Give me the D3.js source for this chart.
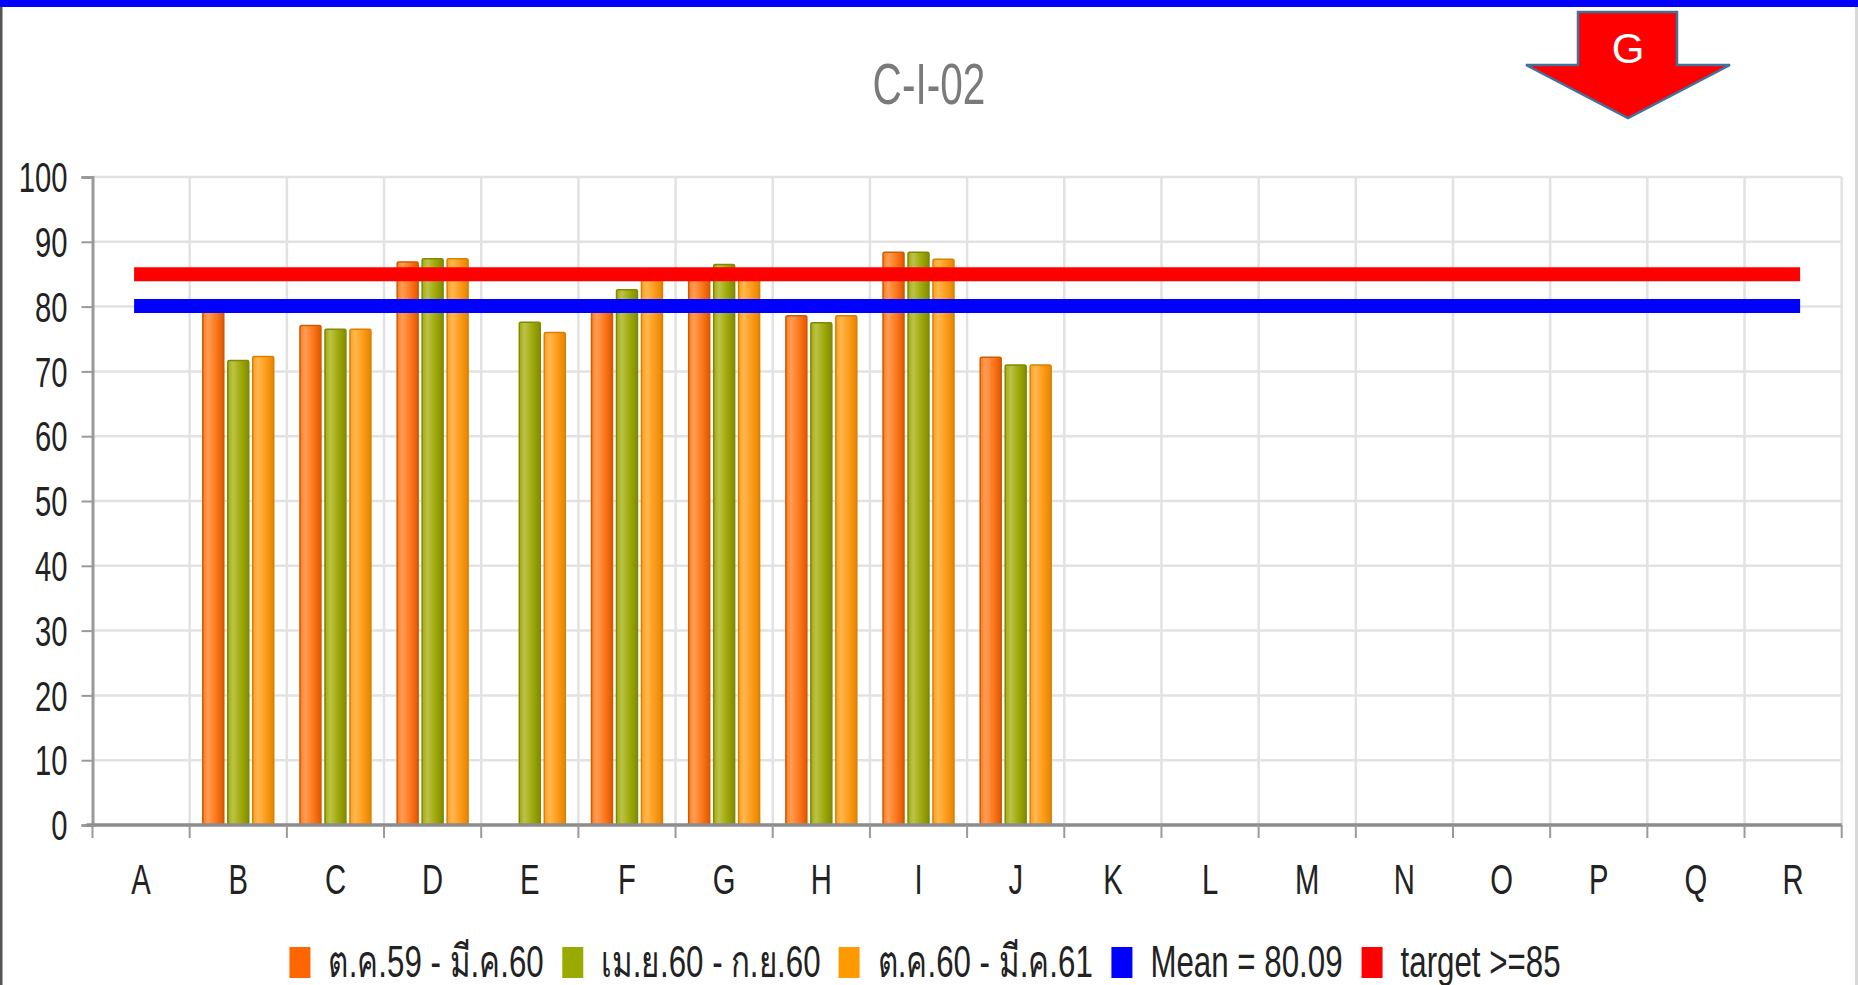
<!DOCTYPE html>
<html>
<head>
<meta charset="utf-8">
<script src="https://cdn.jsdelivr.net/npm/d3@7"></script>
<style>
  body { margin: 0; background: #fff; }
  text { font-family: "Liberation Sans", Arial, "DejaVu Sans", sans-serif; }
</style>
</head>
<body>
<svg id="chart" width="1858" height="985"></svg>
<script>
// ---------------- data ----------------
const chartTitle = "C-I-02";
const categories = ["A","B","C","D","E","F","G","H","I","J","K","L","M","N","O","P","Q","R"];
const seriesNames = ["ต.ค.59 - มี.ค.60", "เม.ย.60 - ก.ย.60", "ต.ค.60 - มี.ค.61"];
const series1 = [null, 79.3, 77.1, 86.9, null, 80.4, 85.6, 78.6, 88.4, 72.2, null, null, null, null, null, null, null, null];
const series2 = [null, 71.7, 76.5, 87.4, 77.6, 82.6, 86.5, 77.5, 88.4, 71.0, null, null, null, null, null, null, null, null];
const series3 = [null, 72.3, 76.5, 87.4, 76.0, 85.4, 85.6, 78.6, 87.3, 71.0, null, null, null, null, null, null, null, null];
const meanValue = 80.09;
const targetValue = 85;
const meanLabel = "Mean = 80.09";
const targetLabel = "target >=85";
const yTicks = [0, 10, 20, 30, 40, 50, 60, 70, 80, 90, 100];
const arrowLabel = "G";

// ---------------- styles ----------------
const W = 1858, H = 985;
const margin = { left: 92.5, right: 1858 - 1841.7, top: 177, bottom: 985 - 825 };
const textScale = 0.68;
const legendScale = 0.695;
const seriesColors = [
  { legend: "#ff6600", light: "#ff9d55", mid: "#ff7a1f", dark: "#e05800", stroke: "#cf5a00" },
  { legend: "#99aa00", light: "#bcc249", mid: "#a2ab0c", dark: "#818c00", stroke: "#7f8a00" },
  { legend: "#ff9900", light: "#ffb84f", mid: "#ff9d1c", dark: "#e58500", stroke: "#d98000" }
];

const svg = d3.select("#chart");
svg.append("rect").attr("width", W).attr("height", H).attr("fill", "#fff");

const defs = svg.append("defs");
seriesColors.forEach((c, i) => {
  const g = defs.append("linearGradient").attr("id", "grad" + i)
    .attr("x1", "0%").attr("x2", "100%").attr("y1", "0%").attr("y2", "0%");
  g.append("stop").attr("offset", "0%").attr("stop-color", c.mid);
  g.append("stop").attr("offset", "25%").attr("stop-color", c.light);
  g.append("stop").attr("offset", "60%").attr("stop-color", c.mid);
  g.append("stop").attr("offset", "100%").attr("stop-color", c.dark);
});

// borders
svg.append("rect").attr("x", 0).attr("y", 0).attr("width", W).attr("height", 7).attr("fill", "#0000ff");
svg.append("rect").attr("x", 0).attr("y", 7).attr("width", 2.5).attr("height", H - 7).attr("fill", "#555");
svg.append("rect").attr("x", W - 3).attr("y", 7).attr("width", 3).attr("height", H - 7).attr("fill", "#d8d8d8");

// scales
const x0 = margin.left, x1 = W - margin.right;
const y0 = H - margin.bottom, y1 = margin.top;
const xBand = d3.scaleBand().domain(categories).range([x0, x1]).padding(0);
const xGroup = d3.scaleBand().domain(categories).range([x0, x1]).paddingInner(0.27).paddingOuter(0.135);
const xSub = d3.scaleBand().domain([0, 1, 2]).range([0, xGroup.bandwidth()]).paddingInner(0.16);
const y = d3.scaleLinear().domain([0, 100]).range([y0, y1]);

// grid
const grid = svg.append("g");
grid.selectAll("line.h").data(yTicks).join("line")
  .attr("x1", x0).attr("x2", x1).attr("y1", d => y(d)).attr("y2", d => y(d))
  .attr("stroke", "#e2e2e2").attr("stroke-width", 2.5);
const bounds = categories.map(c => xBand(c)).concat([x1]);
grid.selectAll("line.v").data(bounds.slice(1)).join("line")
  .attr("x1", d => d).attr("x2", d => d).attr("y1", y1).attr("y2", y0)
  .attr("stroke", "#e2e2e2").attr("stroke-width", 2.5);

// bars
const allSeries = [series1, series2, series3];
allSeries.forEach((vals, si) => {
  const data = categories.map((c, i) => ({ c, v: vals[i] })).filter(d => d.v != null);
  svg.append("g").selectAll("rect").data(data).join("rect")
    .attr("x", d => xGroup(d.c) + xSub(si))
    .attr("width", xSub.bandwidth())
    .attr("y", d => y(d.v))
    .attr("height", d => y(0) - y(d.v))
    .attr("rx", 1.5)
    .attr("fill", "url(#grad" + si + ")")
    .attr("stroke", seriesColors[si].stroke)
    .attr("stroke-width", 1.5);
});

// axes
const yAxis = svg.append("g").attr("transform", `translate(${x0},0)`)
  .call(d3.axisLeft(y).tickValues(yTicks).tickSize(11).tickPadding(0).tickFormat(d3.format("d")));
yAxis.select(".domain").attr("stroke", "#9a9a9a").attr("stroke-width", 3);
yAxis.selectAll(".tick line").attr("stroke", "#9a9a9a").attr("stroke-width", 2);
yAxis.selectAll(".tick text")
  .attr("x", 0).attr("dy", null).attr("dominant-baseline", "central")
  .attr("transform", `translate(-25,0) scale(${textScale},1)`)
  .attr("font-size", 43).attr("fill", "#222").attr("text-anchor", "end")
  .attr("font-family", "Liberation Sans, Arial, sans-serif");

const xAxis = svg.append("g").attr("transform", `translate(0,${y0})`);
xAxis.append("line").attr("x1", x0 - 6).attr("x2", x1).attr("y1", 0).attr("y2", 0)
  .attr("stroke", "#8c8c8c").attr("stroke-width", 3.5);
xAxis.selectAll("line.t").data(bounds).join("line")
  .attr("x1", d => d).attr("x2", d => d).attr("y1", 0).attr("y2", 13)
  .attr("stroke", "#9a9a9a").attr("stroke-width", 2);
xAxis.selectAll("text").data(categories).join("text")
  .attr("transform", d => `translate(${xBand(d) + xBand.bandwidth() / 2},69) scale(${textScale},1)`)
  .attr("text-anchor", "middle").attr("font-size", 43).attr("fill", "#222")
  .text(d => d);

// reference lines
const refLines = [
  { v: meanValue, color: "#0000ff" },
  { v: targetValue, color: "#ff0000" }
];
const cA = xBand(categories[0]) + xBand.bandwidth() / 2;
const cR = xBand(categories[categories.length - 1]) + xBand.bandwidth() / 2;
svg.append("g").selectAll("line").data(refLines).join("line")
  .attr("x1", cA).attr("x2", cR).attr("y1", d => y(d.v)).attr("y2", d => y(d.v))
  .attr("stroke", d => d.color).attr("stroke-width", 14).attr("stroke-linecap", "square");

// title
svg.append("text")
  .attr("transform", `translate(929,104) scale(0.7,1)`)
  .attr("text-anchor", "middle").attr("font-size", 58).attr("fill", "#7a7a7a")
  .text(chartTitle);

// legend
const legendItems = seriesNames.map((n, i) => ({ label: n, color: seriesColors[i].legend }))
  .concat([{ label: meanLabel, color: "#0000ff" }, { label: targetLabel, color: "#ff0000" }]);
const lg = svg.append("g");
const sqW = 21, sqH = 31, gapSqText = 18, gapItem = 19, legendFont = 45;
const items = lg.selectAll("g").data(legendItems).join("g");
items.append("rect").attr("width", sqW).attr("height", sqH).attr("y", 947).attr("fill", d => d.color);
items.append("text").attr("font-size", legendFont).attr("fill", "#222").text(d => d.label);
let widths = [];
items.select("text").each(function () { widths.push(this.getComputedTextLength() * legendScale); });
const total = d3.sum(widths) + legendItems.length * (sqW + gapSqText) + (legendItems.length - 1) * gapItem;
let cx = 925 - total / 2;
items.each(function (d, i) {
  const g = d3.select(this);
  g.select("rect").attr("x", cx);
  g.select("text").attr("transform", `translate(${cx + sqW + gapSqText},977) scale(${legendScale},1)`);
  cx += sqW + gapSqText + widths[i] + gapItem;
});

// arrow annotation
const arrowPts = [[1578, 12], [1677, 12], [1677, 65], [1730, 65], [1628, 118], [1526, 65], [1578, 65]];
svg.append("polygon").attr("points", arrowPts.map(p => p.join(",")).join(" "))
  .attr("fill", "#ff0000").attr("stroke", "#41719c").attr("stroke-width", 2.5).attr("stroke-linejoin", "miter");
svg.append("text").attr("x", 1628).attr("y", 63).attr("text-anchor", "middle")
  .attr("font-size", 42).attr("fill", "#fff").attr("font-family", "Open Sans, Noto Sans, sans-serif")
  .text(arrowLabel);
</script>
</body>
</html>
